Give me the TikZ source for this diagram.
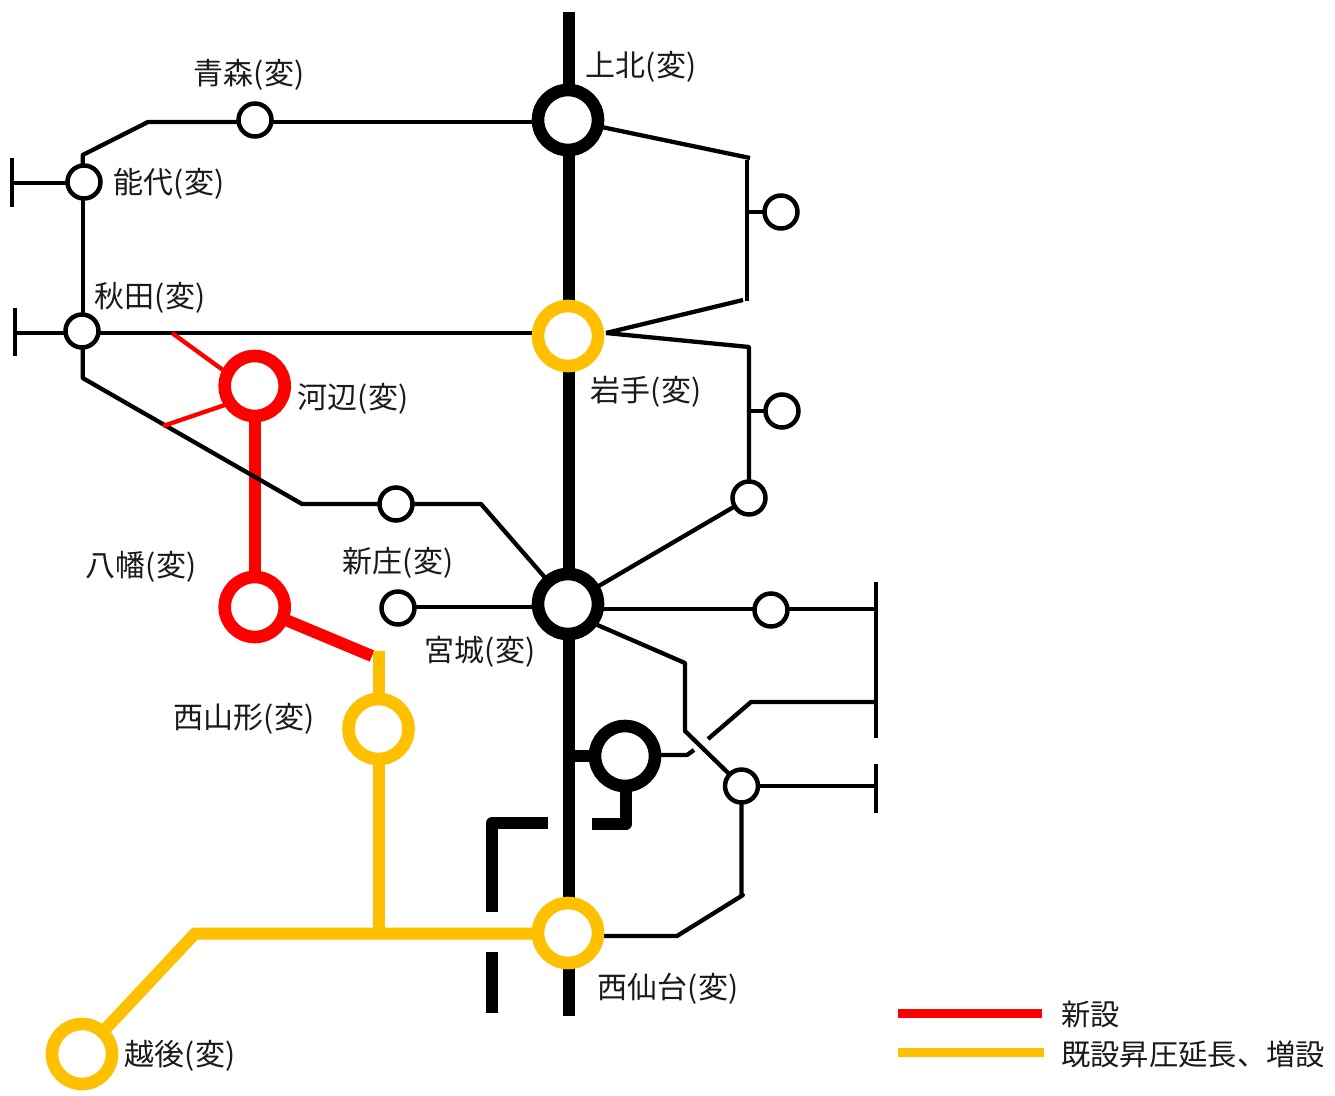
\documentclass[tikz,border=0pt]{standalone}
\usepackage{fontspec}
\usetikzlibrary{backgrounds}
\setmainfont{Noto Sans CJK JP}
\definecolor{kiiro}{HTML}{FFC000}
\definecolor{aka}{HTML}{FF0000}
\definecolor{moji}{HTML}{1A1A1A}
\tikzset{
  bigst/.style={circle,draw=#1,fill=white,line width=12.6pt,minimum size=60pt,inner sep=0pt,outer sep=0pt},
  smallst/.style={circle,draw=black,fill=white,line width=4.5pt,minimum size=33pt,inner sep=0pt,outer sep=0pt},
  thin4/.style={draw=black,line width=4.3pt,line join=round},
  thick12/.style={draw=#1,line width=12pt,line join=round},
  redthin/.style={draw=aka,line width=4.3pt,line join=round},
  legline/.style={line width=9pt},
  lab/.style={text=moji,font=\fontsize{30}{33}\selectfont,inner sep=0pt},
  legtext/.style={text=moji,font=\fontsize{29.3}{32}\selectfont,inner sep=0pt,anchor=west},
}
\begin{document}
\begin{tikzpicture}[x=1pt,y=-1pt]
\useasboundingbox (0,0) rectangle (1335,1095);
% main stations
\node[bigst=black] (kami) at (568,120) {};
\node[bigst=kiiro] (iwa) at (568,336) {};
\node[bigst=black] (miya) at (568,604) {};
\node[bigst=kiiro] (nsen) at (568,933) {};
\node[bigst=black] (unk) at (625,756) {};
\node[bigst=aka] (kawa) at (254.7,386) {};
\node[bigst=aka] (yaha) at (254.7,607) {};
\node[bigst=kiiro] (nyam) at (378.5,729) {};
\node[bigst=kiiro] (echi) at (82,1054) {};
% small stations
\node[smallst] (aomo) at (255,120) {};
\node[smallst] (nosh) at (84,182) {};
\node[smallst] (akit) at (82,331) {};
\node[smallst] (s1) at (781,212) {};
\node[smallst] (s2) at (782,411) {};
\node[smallst] (s3) at (749,498) {};
\node[smallst] (s4) at (396,504) {};
\node[smallst] (shin) at (398,608) {};
\node[smallst] (s5) at (771,610) {};
\node[smallst] (s6) at (741.5,786) {};
% free ends and bends
\coordinate (top) at (569,12);
\coordinate (bot) at (569,1016);
\coordinate (a1) at (82.7,155);
\coordinate (a2) at (148,122);
\coordinate (nt) at (12,183);
\coordinate (ntu) at (12,158);
\coordinate (ntd) at (12,207);
\coordinate (at) at (15,333);
\coordinate (atu) at (15,308);
\coordinate (atd) at (15,356);
\coordinate (b1) at (82.7,378);
\coordinate (b2) at (302,504);
\coordinate (b3) at (481,504);
\coordinate (r1) at (172,333);
\coordinate (r2) at (163,426);
\coordinate (c1) at (750,158);
\coordinate (c2) at (747,160);
\coordinate (c3) at (747,301);
\coordinate (c4) at (747,212);
\coordinate (i0) at (606,333);
\coordinate (i1) at (743,300);
\coordinate (i2) at (749,347);
\coordinate (i3) at (749,411);
\coordinate (v1) at (876,582);
\coordinate (v2) at (876,738);
\coordinate (v3) at (876,609);
\coordinate (v4) at (876,702);
\coordinate (v5) at (876,764);
\coordinate (v6) at (876,813);
\coordinate (v7) at (876,786);
\coordinate (w1) at (0,607);
\coordinate (d1) at (685,663);
\coordinate (d2) at (685,731);
\coordinate (e1) at (751,702);
\coordinate (e2) at (708,739);
\coordinate (f1) at (687,755);
\coordinate (f2) at (694,750);
\coordinate (g1) at (569,756);
\coordinate (g2) at (626,824);
\coordinate (g3) at (592,824);
\coordinate (h1) at (548,823);
\coordinate (h2) at (492,823);
\coordinate (h3) at (492,912);
\coordinate (h4) at (492,952);
\coordinate (h5) at (492,1013);
\coordinate (j1) at (677,936);
\coordinate (j2) at (743,895);
\coordinate (y1) at (378,651);
\coordinate (y2) at (378.5,933.5);
\coordinate (y3) at (195,933.5);
\coordinate (y4) at (372,656);
% labels
\node[lab] (t1) at (641,66.5) {上北(変)};
\node[lab] (t2) at (249,74.5) {青森(変)};
\node[lab] (t3) at (169,183.5) {能代(変)};
\node[lab] (t4) at (150,297.5) {秋田(変)};
\node[lab] (t5) at (353,398.5) {河辺(変)};
\node[lab] (t6) at (646,391.5) {岩手(変)};
\node[lab] (t7) at (398,562.5) {新庄(変)};
\node[lab] (t8) at (141,566.5) {八幡(変)};
\node[lab] (t9) at (480,651.5) {宮城(変)};
\node[lab] (t10) at (244,718.5) {西山形(変)};
\node[lab] (t11) at (668,988.5) {西仙台(変)};
\node[lab] (t12) at (180,1055.5) {越後(変)};
% legend
\coordinate (l1a) at (898,1013);
\coordinate (l1b) at (1042,1013);
\coordinate (l2a) at (898,1052.5);
\coordinate (l2b) at (1044,1052.5);
\draw[aka,legline] (l1a) -- (l1b);
\draw[kiiro,legline] (l2a) -- (l2b);
\node[legtext] (t13) at (1061,1014) {新設};
\node[legtext] (t14) at (1061,1054) {既設昇圧延長、増設};
\begin{pgfonlayer}{background}
\fill[white] (0,0) rectangle (1335,1095);
% main black trunk
\draw[thick12=black] (top) -- (top |- kami);
\draw[thick12=black] (top |- kami) -- (top |- iwa);
\draw[thick12=black] (top |- iwa) -- (top |- miya);
\draw[thick12=black] (top |- miya) -- (top |- nsen);
\draw[thick12=black] (top |- nsen) -- (bot);
\draw[thick12=black] (g1) -- (unk);
\draw[thick12=black] (g2 |- unk) -- (g2) -- (g3);
\draw[thick12=black] (h1) -- (h2) -- (h3);
\draw[thick12=black] (h4) -- (h5);
% coloured trunks
\draw[thick12=aka] (kawa) -- (yaha);
\draw[thick12=aka] (yaha) -- (y4);
\draw[thick12=kiiro] (nyam |- y1) -- (nyam);
\draw[thick12=kiiro] (nyam) -- (y2);
\draw[thick12=kiiro] (nsen |- y2) -- (y3) -- (echi);
% thin black lines
\draw[thin4] (kami |- a2) -- (aomo |- a2);
\draw[thin4] (aomo |- a2) -- (a2) -- (a1) -- (a1 |- nosh);
\draw[thin4] (a1 |- nosh) -- (a1 |- akit);
\draw[thin4] (nosh |- nt) -- (nt);
\draw[thin4] (ntu) -- (ntd);
\draw[thin4] (akit |- at) -- (iwa |- at);
\draw[thin4] (akit |- at) -- (at);
\draw[thin4] (atu) -- (atd);
\draw[thin4] (a1 |- akit) -- (b1) -- (b2) -- (s4);
\draw[thin4] (s4) -- (b3) -- (miya);
\draw[thin4] (kami) -- (c1);
\draw[thin4] (c2) -- (c3);
\draw[thin4] (c4) -- (s1);
\draw[thin4] (i0) -- (i1);
\draw[thin4] (i0) -- (i2) -- (i2 |- s3);
\draw[thin4] (i3) -- (i3 -| s2);
\draw[thin4] (miya) -- (s3);
\draw[thin4] (miya |- v3) -- (s5 |- v3);
\draw[thin4] (s5 |- v3) -- (v3);
\draw[thin4] (v1) -- (v2);
\draw[thin4] (shin |- w1) -- (miya |- w1);
\draw[thin4] (miya.-38) -- (d1) -- (d2) -- (s6);
\draw[thin4] (v4) -- (e1) -- (e2);
\draw[thin4] (unk |- f1) -- (f1) -- (f2);
\draw[thin4] (s6) -- (v7);
\draw[thin4] (v5) -- (v6);
\draw[thin4] (s6) -- (s6 |- j2) -- (j2) -- (j1) -- (nsen |- j1);
% red thin lines
\draw[redthin] (r1) -- (kawa.155);
\draw[redthin] (r2) -- (kawa.215);
\end{pgfonlayer}
\end{tikzpicture}
\end{document}
